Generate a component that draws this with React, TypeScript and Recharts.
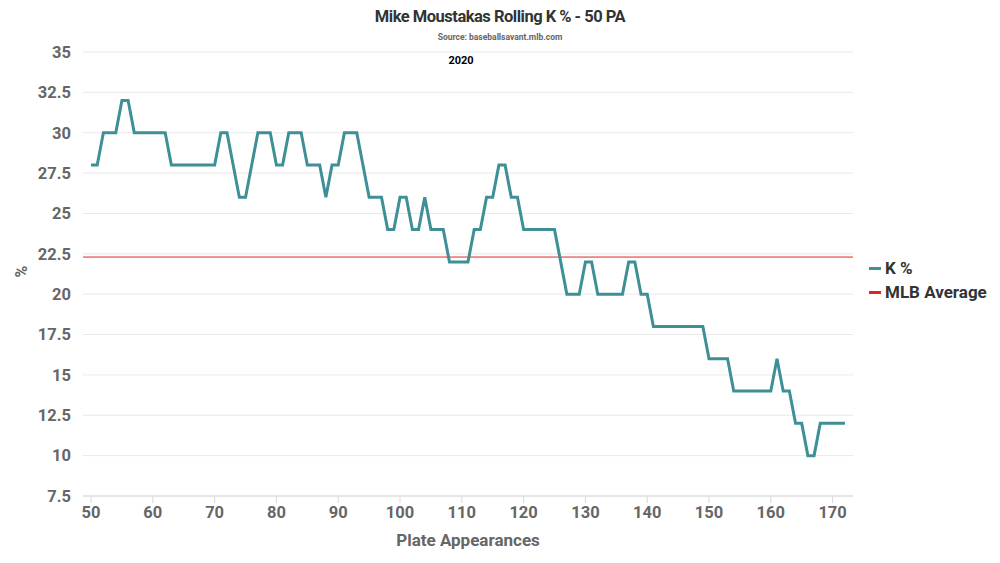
import {
  LineChart,
  Line,
  XAxis,
  YAxis,
  CartesianGrid,
  ReferenceLine,
} from "recharts";

// plate appearance number for each rolling window
const plateAppearances = [
  50, 51, 52, 53, 54, 55, 56, 57, 58, 59,
  60, 61, 62, 63, 64, 65, 66, 67, 68, 69,
  70, 71, 72, 73, 74, 75, 76, 77, 78, 79,
  80, 81, 82, 83, 84, 85, 86, 87, 88, 89,
  90, 91, 92, 93, 94, 95, 96, 97, 98, 99,
  100, 101, 102, 103, 104, 105, 106, 107, 108, 109,
  110, 111, 112, 113, 114, 115, 116, 117, 118, 119,
  120, 121, 122, 123, 124, 125, 126, 127, 128, 129,
  130, 131, 132, 133, 134, 135, 136, 137, 138, 139,
  140, 141, 142, 143, 144, 145, 146, 147, 148, 149,
  150, 151, 152, 153, 154, 155, 156, 157, 158, 159,
  160, 161, 162, 163, 164, 165, 166, 167, 168, 169,
  170, 171, 172,
];

// rolling K% over the last 50 PA
const kPct = [
  28, 28, 30, 30, 30, 32, 32, 30, 30, 30,
  30, 30, 30, 28, 28, 28, 28, 28, 28, 28,
  28, 30, 30, 28, 26, 26, 28, 30, 30, 30,
  28, 28, 30, 30, 30, 28, 28, 28, 26, 28,
  28, 30, 30, 30, 28, 26, 26, 26, 24, 24,
  26, 26, 24, 24, 26, 24, 24, 24, 22, 22,
  22, 22, 24, 24, 26, 26, 28, 28, 26, 26,
  24, 24, 24, 24, 24, 24, 22, 20, 20, 20,
  22, 22, 20, 20, 20, 20, 20, 22, 22, 20,
  20, 18, 18, 18, 18, 18, 18, 18, 18, 18,
  16, 16, 16, 16, 14, 14, 14, 14, 14, 14,
  14, 16, 14, 14, 12, 12, 10, 10, 12, 12,
  12, 12, 12,
];

const mlbAverage = 22.3;

const xTicks = [50, 60, 70, 80, 90, 100, 110, 120, 130, 140, 150, 160, 170];
const yTicks = [7.5, 10, 12.5, 15, 17.5, 20, 22.5, 25, 27.5, 30, 32.5, 35];

const data = plateAppearances.map((pa, i) => ({ pa, k: kPct[i] }));

const TEAL = "#3e9096";
const RED = "#e5231d";
const FONT = "Roboto, 'Noto Sans', sans-serif";
const tickStyle = { fill: "#666", fontSize: 16.5, fontWeight: 700, fontFamily: FONT };

const LegendItem = ({ color, label, top }: { color: string; label: string; top: number }) => (
  <div style={{ position: "absolute", left: 869, top, display: "flex", alignItems: "center" }}>
    <div style={{ width: 12, height: 3, background: color, marginRight: 4 }} />
    <span style={{ fontSize: 17, fontWeight: 700, color: "#333", fontFamily: FONT }}>{label}</span>
  </div>
);

const App = () => {
  return (
    <div style={{ position: "absolute", left: 0, top: 0, width: 1000, height: 563, background: "#fff", fontFamily: FONT }}>
      <div style={{ position: "absolute", left: 0, width: 1000, top: 7, textAlign: "center", fontSize: 16.5, fontWeight: 700, color: "#333", letterSpacing: -0.5 }}>
        Mike Moustakas Rolling K % - 50 PA
      </div>
      <div style={{ position: "absolute", left: 0, width: 1000, top: 32, textAlign: "center", fontSize: 8.5, fontWeight: 700, color: "#666" }}>
        Source: baseballsavant.mlb.com
      </div>
      <div style={{ position: "absolute", left: 411, width: 100, top: 54, textAlign: "center", fontSize: 11, fontWeight: 700, color: "#000" }}>
        2020
      </div>
      <LineChart
        width={1000}
        height={563}
        data={data}
        margin={{ top: 52, right: 147, left: 0, bottom: 37 }}
      >
        <CartesianGrid vertical={false} stroke="#e9e9e9" />
        <XAxis
          type="number"
          dataKey="pa"
          domain={[48.7, 173.3]}
          ticks={xTicks}
          allowDataOverflow
          height={30}
          stroke="#d8d8d8"
          tickSize={7}
          tickMargin={3}
          tick={tickStyle}
        />
        <YAxis
          type="number"
          domain={[7.5, 35]}
          ticks={yTicks}
          width={83}
          axisLine={false}
          tickLine={false}
          tickSize={0}
          tickMargin={12}
          tick={tickStyle}
        />
        <ReferenceLine y={mlbAverage} stroke={RED} strokeWidth={1} />
        <Line
          type="linear"
          dataKey="k"
          stroke={TEAL}
          strokeWidth={3}
          dot={false}
          isAnimationActive={false}
        />
      </LineChart>
      <div style={{ position: "absolute", left: 16, top: 262, transform: "rotate(-90deg)", fontSize: 16, fontWeight: 700, color: "#666" }}>
        %
      </div>
      <div style={{ position: "absolute", left: 83, width: 770, top: 530, textAlign: "center", fontSize: 17, fontWeight: 700, color: "#666" }}>
        Plate Appearances
      </div>
      <LegendItem color={TEAL} label="K %" top={258} />
      <LegendItem color={RED} label="MLB Average" top={282} />
    </div>
  );
};

export default App;
